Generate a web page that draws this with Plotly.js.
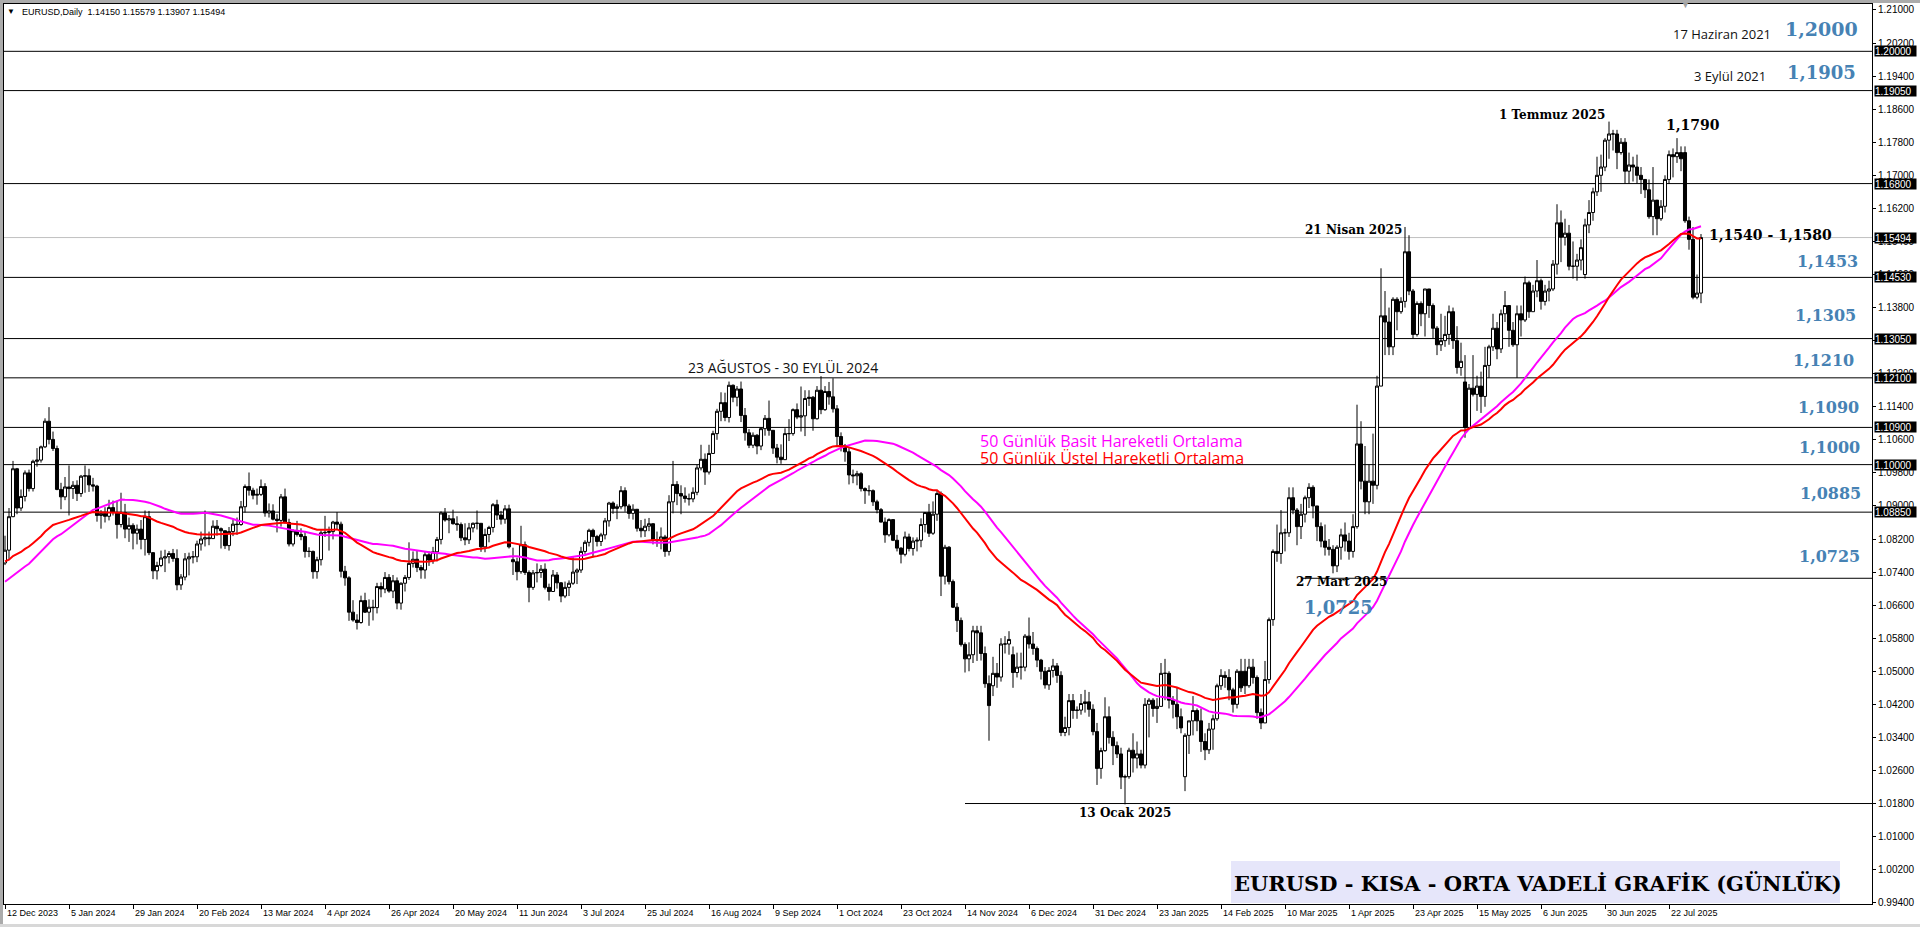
<!DOCTYPE html>
<html><head><meta charset="utf-8">
<script src="https://cdn.plot.ly/plotly-3.0.1.min.js"></script>
<style>html,body{margin:0;padding:0;background:#fff;}#chart{width:1920px;height:927px;}</style>
</head><body><div id="chart"></div>
<script>
// ---- EURUSD daily, 12 Dec 2023 .. 1 Aug 2025 (one line per month) ----
const opens = [
1.0762,1.0793,1.0874,1.0990,1.0895,1.0923,1.0980,1.0942,1.1008,1.1011,1.1043,1.1105,1.1061,
1.1039,1.0940,1.0922,1.0946,1.0942,1.0950,1.0930,1.0972,1.0973,1.0951,1.0948,1.0877,1.0882,1.0875,1.0896,1.0884,1.0855,1.0884,1.0844,1.0853,1.0834,1.0844,
1.0819,1.0874,1.0787,1.0743,1.0756,1.0774,1.0777,1.0785,1.0773,1.0709,1.0728,1.0772,1.0777,1.0777,1.0808,1.0820,1.0823,1.0821,1.0851,1.0845,1.0840,
1.0804,1.0838,1.0856,1.0855,1.0898,1.0947,1.0938,1.0926,1.0928,1.0947,1.0883,1.0888,1.0868,1.0865,1.0922,1.0860,1.0808,1.0840,1.0831,1.0826,1.0790,
1.0790,1.0741,1.0770,1.0835,1.0836,1.0838,1.0861,1.0856,1.0742,1.0726,1.0643,1.0624,1.0618,1.0671,1.0643,1.0655,1.0654,1.0705,1.0699,1.0727,1.0694,1.0719,
1.0665,1.0713,1.0727,1.0761,1.0771,1.0751,1.0745,1.0782,1.0769,1.0789,1.0819,1.0883,1.0866,1.0869,1.0857,1.0855,1.0823,1.0818,1.0847,1.0858,1.0858,1.0801,1.0831,
1.0848,1.0903,1.0878,1.0868,1.0893,1.0770,1.0765,1.0741,1.0806,1.0739,1.0703,1.0738,1.0739,1.0747,1.0703,1.0693,1.0733,1.0714,1.0682,1.0703,
1.0713,1.0740,1.0745,1.0790,1.0812,1.0841,1.0826,1.0814,1.0830,1.0864,1.0907,1.0894,1.0898,1.0937,1.0900,1.0882,1.0892,1.0846,1.0840,1.0851,1.0857,1.0818,1.0816,
1.0825,1.0790,1.0910,1.0952,1.0930,1.0924,1.0918,1.0917,1.0933,1.0992,1.1013,1.0982,1.1027,1.1075,1.1129,1.1150,1.1114,1.1192,1.1163,1.1183,1.1119,1.1077,
1.1047,1.1071,1.1045,1.1087,1.1112,1.1083,1.1040,1.1018,1.1012,1.1075,1.1075,1.1133,1.1115,1.1118,1.1160,1.1163,1.1111,1.1180,1.1133,1.1177,1.1164,
1.1135,1.1068,1.1046,1.1031,1.0975,1.0973,1.0978,1.0942,1.0937,1.0937,1.0910,1.0891,1.0861,1.0830,1.0867,1.0817,1.0798,1.0783,1.0825,1.0797,1.0815,1.0817,1.0855,
1.0884,1.0834,1.0880,1.0930,1.0730,1.0800,1.0717,1.0655,1.0623,1.0565,1.0530,1.0540,1.0598,1.0593,1.0543,1.0470,1.0465,1.0495,1.0486,1.0566,1.0566,
1.0540,1.0497,1.0510,1.0510,1.0585,1.0566,1.0555,1.0527,1.0500,1.0467,1.0502,1.0513,1.0490,1.0352,1.0364,1.0429,1.0405,1.0406,1.0422,1.0426,1.0408,
1.0354,1.0265,1.0308,1.0390,1.0340,1.0320,1.0300,1.0244,1.0245,1.0309,1.0290,1.0300,1.0273,1.0420,1.0430,1.0410,1.0415,1.0495,1.0495,1.0430,1.0420,1.0390,
1.0245,1.0345,1.0380,1.0405,1.0380,1.0330,1.0310,1.0360,1.0385,1.0465,1.0490,1.0485,1.0455,1.0420,1.0500,1.0500,1.0465,1.0510,1.0485,1.0400,
1.0375,1.0480,1.0625,1.0790,1.0785,1.0835,1.0835,1.0920,1.0890,1.0850,1.0880,1.0920,1.0945,1.0900,1.0850,1.0815,1.0800,1.0795,1.0755,1.0800,1.0830,
1.0815,1.0790,1.0850,1.1050,1.0960,1.0910,1.0960,1.0950,1.1190,1.1360,1.1345,1.1285,1.1400,1.1370,1.1395,1.1515,1.1420,1.1315,1.1390,1.1365,1.1425,1.1385,
1.1330,1.1290,1.1300,1.1315,1.1370,1.1300,1.1235,1.1200,1.1090,1.1185,1.1170,1.1190,1.1165,1.1240,1.1285,1.1330,1.1280,1.1365,1.1385,1.1325,1.1290,1.1365,
1.1350,1.1440,1.1370,1.1420,1.1445,1.1395,1.1420,1.1425,1.1485,1.1585,1.1550,1.1560,1.1480,1.1480,1.1495,1.1460,1.1580,1.1610,1.1660,1.1700,1.1720,
1.1785,1.1800,1.1800,1.1755,1.1780,1.1710,1.1725,1.1720,1.1700,1.1690,1.1665,1.1600,1.1640,1.1595,1.1625,1.1690,1.1750,1.1745,1.1755,1.1755,1.1590,1.1545,1.1405,
1.14150];
const highs = [
1.0828,1.0895,1.1009,1.0992,1.0940,1.0986,1.0988,1.1012,1.1040,1.1046,1.1112,1.1139,1.1080,
1.1046,1.0956,1.0970,1.0998,1.0960,1.0962,1.0975,1.0998,1.0990,1.0968,1.0951,1.0890,1.0897,1.0915,1.0913,1.0913,1.0932,1.0905,1.0872,1.0858,1.0855,1.0866,
1.0889,1.0888,1.0788,1.0765,1.0792,1.0794,1.0791,1.0796,1.0795,1.0735,1.0786,1.0787,1.0791,1.0816,1.0838,1.0889,1.0838,1.0865,1.0866,1.0848,1.0840,
1.0849,1.0867,1.0872,1.0912,1.0952,1.0981,1.0944,1.0942,1.0964,1.0955,1.0906,1.0904,1.0880,1.0929,1.0942,1.0869,1.0844,1.0864,1.0846,1.0837,1.0800,
1.0792,1.0777,1.0841,1.0876,1.0850,1.0864,1.0885,1.0862,1.0755,1.0730,1.0672,1.0638,1.0683,1.0690,1.0674,1.0673,1.0714,1.0715,1.0740,1.0735,1.0733,1.0727,
1.0715,1.0733,1.0812,1.0790,1.0791,1.0757,1.0790,1.0790,1.0801,1.0825,1.0887,1.0895,1.0878,1.0891,1.0875,1.0860,1.0858,1.0859,1.0860,1.0889,1.0858,1.0845,1.0852,
1.0907,1.0915,1.0888,1.0902,1.0903,1.0799,1.0775,1.0852,1.0814,1.0744,1.0745,1.0761,1.0757,1.0761,1.0712,1.0745,1.0740,1.0716,1.0717,1.0720,
1.0776,1.0749,1.0801,1.0817,1.0845,1.0845,1.0830,1.0835,1.0871,1.0910,1.0911,1.0904,1.0948,1.0945,1.0905,1.0904,1.0892,1.0866,1.0869,1.0871,1.0858,1.0838,1.0848,
1.0830,1.0926,1.1009,1.0960,1.0950,1.0945,1.0930,1.0945,1.1000,1.1048,1.1027,1.1048,1.1082,1.1135,1.1175,1.1174,1.1201,1.1194,1.1190,1.1201,1.1137,1.1086,
1.1078,1.1074,1.1091,1.1120,1.1155,1.1083,1.1050,1.1049,1.1088,1.1110,1.1136,1.1148,1.1189,1.1180,1.1180,1.1166,1.1190,1.1214,1.1190,1.1200,1.1209,
1.1144,1.1078,1.1050,1.1040,1.0988,1.0985,1.0982,1.0945,1.0950,1.0940,1.0915,1.0895,1.0872,1.0870,1.0867,1.0830,1.0800,1.0838,1.0833,1.0824,1.0824,1.0870,1.0885,
1.0905,1.0911,1.0937,1.0935,1.0806,1.0803,1.0722,1.0665,1.0630,1.0570,1.0570,1.0610,1.0610,1.0610,1.0560,1.0490,1.0535,1.0520,1.0580,1.0585,1.0597,
1.0560,1.0545,1.0545,1.0590,1.0630,1.0595,1.0560,1.0530,1.0510,1.0510,1.0530,1.0520,1.0500,1.0390,1.0445,1.0445,1.0415,1.0445,1.0455,1.0450,1.0420,
1.0375,1.0315,1.0437,1.0415,1.0355,1.0330,1.0315,1.0250,1.0315,1.0350,1.0330,1.0310,1.0435,1.0435,1.0435,1.0435,1.0520,1.0530,1.0500,1.0440,1.0460,1.0410,
1.0350,1.0380,1.0440,1.0410,1.0410,1.0350,1.0375,1.0395,1.0470,1.0505,1.0500,1.0505,1.0460,1.0505,1.0530,1.0530,1.0530,1.0530,1.0490,1.0410,
1.0525,1.0630,1.0795,1.0855,1.0890,1.0845,1.0945,1.0945,1.0895,1.0905,1.0925,1.0955,1.0950,1.0900,1.0860,1.0855,1.0820,1.0805,1.0805,1.0845,1.0860,
1.0835,1.0880,1.1145,1.1105,1.1045,1.1000,1.1075,1.1215,1.1475,1.1420,1.1380,1.1405,1.1405,1.1405,1.1575,1.1555,1.1425,1.1395,1.1395,1.1425,1.1425,1.1390,
1.1335,1.1365,1.1360,1.1385,1.1380,1.1335,1.1295,1.1265,1.1195,1.1265,1.1215,1.1225,1.1285,1.1290,1.1365,1.1345,1.1375,1.1420,1.1385,1.1345,1.1385,1.1385,
1.1455,1.1445,1.1435,1.1495,1.1450,1.1435,1.1445,1.1495,1.1630,1.1615,1.1595,1.1580,1.1540,1.1510,1.1545,1.1595,1.1640,1.1670,1.1745,1.1750,1.1790,
1.1830,1.1810,1.1810,1.1790,1.1790,1.1755,1.1745,1.1750,1.1720,1.1690,1.1690,1.1720,1.1640,1.1640,1.1700,1.1760,1.1765,1.1790,1.1770,1.1770,1.1600,1.1575,1.1460,
1.15579];
const lows = [
1.0757,1.0772,1.0873,1.0880,1.0888,1.0911,1.0935,1.0935,1.0995,1.1005,1.1040,1.1049,1.1033,
1.0938,1.0892,1.0914,1.0877,1.0917,1.0912,1.0922,1.0932,1.0934,1.0935,1.0862,1.0845,1.0860,1.0865,1.0877,1.0821,1.0848,1.0822,1.0813,1.0795,1.0807,1.0795,
1.0780,1.0781,1.0723,1.0722,1.0752,1.0740,1.0761,1.0765,1.0696,1.0697,1.0720,1.0732,1.0761,1.0764,1.0792,1.0802,1.0805,1.0820,1.0828,1.0797,1.0796,
1.0792,1.0827,1.0830,1.0852,1.0884,1.0925,1.0916,1.0903,1.0924,1.0874,1.0872,1.0865,1.0836,1.0850,1.0857,1.0802,1.0802,1.0826,1.0817,1.0775,1.0776,
1.0724,1.0724,1.0756,1.0825,1.0792,1.0819,1.0843,1.0727,1.0707,1.0622,1.0620,1.0601,1.0615,1.0641,1.0610,1.0623,1.0640,1.0679,1.0689,1.0690,1.0677,1.0650,
1.0649,1.0693,1.0721,1.0751,1.0740,1.0724,1.0724,1.0755,1.0760,1.0766,1.0807,1.0862,1.0834,1.0855,1.0840,1.0815,1.0805,1.0808,1.0836,1.0843,1.0789,1.0788,1.0812,
1.0836,1.0866,1.0855,1.0857,1.0797,1.0733,1.0720,1.0736,1.0733,1.0667,1.0697,1.0715,1.0726,1.0698,1.0671,1.0693,1.0700,1.0667,1.0677,1.0682,
1.0709,1.0711,1.0738,1.0784,1.0802,1.0776,1.0802,1.0803,1.0819,1.0850,1.0881,1.0868,1.0892,1.0886,1.0869,1.0867,1.0838,1.0824,1.0825,1.0839,1.0807,1.0801,1.0795,
1.0777,1.0780,1.0882,1.0902,1.0880,1.0908,1.0901,1.0909,1.0926,1.0986,1.0951,1.0976,1.1027,1.1060,1.1105,1.1105,1.1102,1.1151,1.1141,1.1103,1.1058,1.1040,
1.1040,1.1025,1.1035,1.1070,1.1070,1.1026,1.1003,1.1002,1.1012,1.1057,1.1070,1.1110,1.1080,1.1069,1.1142,1.1082,1.1109,1.1122,1.1130,1.1145,1.1126,
1.1045,1.1032,1.1007,1.0952,1.0955,1.0950,1.0935,1.0905,1.0925,1.0900,1.0882,1.0860,1.0811,1.0826,1.0815,1.0790,1.0761,1.0778,1.0790,1.0780,1.0790,1.0800,1.0836,
1.0825,1.0830,1.0864,1.0682,1.0710,1.0710,1.0653,1.0595,1.0560,1.0497,1.0500,1.0520,1.0525,1.0526,1.0460,1.0332,1.0440,1.0460,1.0475,1.0543,1.0540,
1.0460,1.0485,1.0480,1.0500,1.0555,1.0540,1.0510,1.0480,1.0458,1.0455,1.0485,1.0472,1.0343,1.0343,1.0345,1.0385,1.0385,1.0395,1.0400,1.0390,1.0345,
1.0225,1.0240,1.0305,1.0325,1.0273,1.0290,1.0215,1.0178,1.0240,1.0255,1.0265,1.0265,1.0265,1.0340,1.0390,1.0375,1.0415,1.0430,1.0410,1.0386,1.0360,1.0350,
1.0210,1.0300,1.0345,1.0355,1.0305,1.0285,1.0300,1.0310,1.0380,1.0455,1.0460,1.0430,1.0400,1.0410,1.0450,1.0445,1.0460,1.0470,1.0385,1.0360,
1.0375,1.0470,1.0610,1.0765,1.0760,1.0790,1.0825,1.0880,1.0805,1.0820,1.0860,1.0895,1.0870,1.0815,1.0800,1.0780,1.0780,1.0737,1.0740,1.0770,1.0790,
1.0770,1.0775,1.0845,1.0940,1.0880,1.0880,1.0905,1.0940,1.1190,1.1265,1.1265,1.1265,1.1325,1.1365,1.1380,1.1410,1.1305,1.1310,1.1335,1.1310,1.1355,1.1305,
1.1265,1.1275,1.1285,1.1290,1.1280,1.1220,1.1215,1.1065,1.1090,1.1165,1.1130,1.1125,1.1140,1.1210,1.1275,1.1255,1.1270,1.1345,1.1285,1.1285,1.1210,1.1310,
1.1345,1.1355,1.1370,1.1405,1.1375,1.1385,1.1395,1.1420,1.1460,1.1490,1.1530,1.1470,1.1450,1.1445,1.1470,1.1450,1.1560,1.1590,1.1650,1.1660,1.1710,
1.1740,1.1760,1.1715,1.1750,1.1680,1.1680,1.1685,1.1680,1.1655,1.1645,1.1595,1.1555,1.1555,1.1590,1.1610,1.1680,1.1695,1.1730,1.1710,1.1585,1.1520,1.1400,1.1400,
1.13907];
const closes = [
1.0793,1.0874,1.0990,1.0895,1.0923,1.0980,1.0942,1.1008,1.1011,1.1043,1.1105,1.1061,1.1039,
1.0940,1.0922,1.0946,1.0942,1.0950,1.0930,1.0972,1.0973,1.0951,1.0948,1.0877,1.0882,1.0875,1.0896,1.0884,1.0855,1.0884,1.0844,1.0853,1.0834,1.0844,1.0819,
1.0874,1.0787,1.0743,1.0756,1.0774,1.0777,1.0785,1.0773,1.0709,1.0728,1.0772,1.0777,1.0777,1.0808,1.0820,1.0823,1.0821,1.0851,1.0845,1.0840,1.0804,
1.0838,1.0856,1.0855,1.0898,1.0947,1.0938,1.0926,1.0928,1.0947,1.0883,1.0888,1.0868,1.0865,1.0922,1.0860,1.0808,1.0840,1.0831,1.0826,1.0790,1.0790,
1.0741,1.0770,1.0835,1.0836,1.0838,1.0861,1.0856,1.0742,1.0726,1.0643,1.0624,1.0618,1.0671,1.0643,1.0655,1.0654,1.0705,1.0699,1.0727,1.0694,1.0719,1.0665,
1.0713,1.0727,1.0761,1.0771,1.0751,1.0745,1.0782,1.0769,1.0789,1.0819,1.0883,1.0866,1.0869,1.0857,1.0855,1.0823,1.0818,1.0847,1.0858,1.0858,1.0801,1.0831,1.0848,
1.0903,1.0878,1.0868,1.0893,1.0801,1.0765,1.0741,1.0806,1.0739,1.0703,1.0738,1.0739,1.0747,1.0703,1.0693,1.0733,1.0714,1.0682,1.0703,1.0713,
1.0740,1.0745,1.0790,1.0812,1.0841,1.0826,1.0814,1.0830,1.0864,1.0907,1.0894,1.0898,1.0937,1.0900,1.0882,1.0892,1.0846,1.0840,1.0851,1.0857,1.0818,1.0816,1.0825,
1.0790,1.0910,1.0952,1.0930,1.0924,1.0918,1.0917,1.0933,1.0992,1.1013,1.0982,1.1027,1.1075,1.1129,1.1150,1.1114,1.1192,1.1163,1.1183,1.1119,1.1077,1.1047,
1.1071,1.1045,1.1087,1.1112,1.1083,1.1040,1.1018,1.1012,1.1075,1.1075,1.1133,1.1115,1.1118,1.1160,1.1163,1.1111,1.1180,1.1133,1.1177,1.1164,1.1135,
1.1068,1.1046,1.1031,1.0975,1.0973,1.0978,1.0942,1.0937,1.0937,1.0910,1.0891,1.0861,1.0830,1.0867,1.0817,1.0798,1.0783,1.0825,1.0797,1.0815,1.0817,1.0855,1.0884,
1.0834,1.0880,1.0930,1.0730,1.0800,1.0717,1.0655,1.0623,1.0565,1.0530,1.0540,1.0598,1.0593,1.0543,1.0470,1.0417,1.0495,1.0486,1.0566,1.0566,1.0577,
1.0497,1.0510,1.0510,1.0585,1.0566,1.0555,1.0527,1.0500,1.0467,1.0502,1.0513,1.0490,1.0352,1.0364,1.0429,1.0405,1.0406,1.0422,1.0426,1.0408,1.0354,
1.0265,1.0308,1.0390,1.0340,1.0320,1.0300,1.0244,1.0245,1.0309,1.0290,1.0300,1.0273,1.0420,1.0430,1.0410,1.0415,1.0495,1.0495,1.0430,1.0420,1.0390,1.0363,
1.0345,1.0380,1.0405,1.0380,1.0330,1.0310,1.0360,1.0385,1.0465,1.0490,1.0485,1.0455,1.0420,1.0500,1.0460,1.0465,1.0510,1.0485,1.0400,1.0375,
1.0480,1.0625,1.0790,1.0785,1.0835,1.0835,1.0920,1.0890,1.0850,1.0880,1.0920,1.0945,1.0900,1.0850,1.0815,1.0800,1.0795,1.0755,1.0800,1.0830,1.0815,
1.0790,1.0850,1.1050,1.0960,1.0910,1.0960,1.0950,1.1190,1.1360,1.1345,1.1285,1.1400,1.1370,1.1395,1.1515,1.1420,1.1315,1.1390,1.1365,1.1425,1.1385,1.1330,
1.1290,1.1300,1.1315,1.1370,1.1300,1.1235,1.1250,1.1090,1.1185,1.1170,1.1190,1.1165,1.1240,1.1285,1.1330,1.1280,1.1365,1.1385,1.1325,1.1290,1.1365,1.1350,
1.1440,1.1370,1.1420,1.1445,1.1395,1.1420,1.1425,1.1485,1.1585,1.1550,1.1560,1.1480,1.1480,1.1495,1.1525,1.1580,1.1610,1.1660,1.1700,1.1720,1.1785,
1.1800,1.1800,1.1755,1.1780,1.1710,1.1725,1.1720,1.1700,1.1690,1.1665,1.1600,1.1640,1.1595,1.1625,1.1690,1.1750,1.1745,1.1755,1.1740,1.1590,1.1545,1.1405,1.1415,
1.15494];
// closes before 12 Dec 2023 (Sep - 11 Dec 2023), used only to warm up the 50-day averages
const warmupCloses = [
1.0775,1.0795,1.0724,1.0725,1.0697,1.0700,1.0748,1.0752,1.0732,1.0642,1.0658,1.0690,1.0679,1.0660,1.0660,1.0646,1.0596,1.0570,1.0502,1.0565,1.0573,
1.0476,1.0470,1.0503,1.0549,1.0588,1.0564,1.0604,1.0620,1.0530,1.0510,1.0558,1.0576,1.0535,1.0580,1.0594,1.0671,1.0589,1.0565,1.0565,1.0564,1.0614,1.0577,
1.0568,1.0620,1.0729,1.0720,1.0697,1.0709,1.0668,1.0684,1.0700,1.0879,1.0850,1.0853,1.0913,1.0940,1.0907,1.0888,1.0901,1.0941,1.0953,1.0998,1.0971,1.0887,
1.0884,1.0836,1.0795,1.0766,1.0794,1.0762,1.0763];
const tickLabels = ['12 Dec 2023','5 Jan 2024','29 Jan 2024','20 Feb 2024','13 Mar 2024','4 Apr 2024','26 Apr 2024','20 May 2024','11 Jun 2024','3 Jul 2024','25 Jul 2024','16 Aug 2024','9 Sep 2024','1 Oct 2024','23 Oct 2024','14 Nov 2024','6 Dec 2024','31 Dec 2024','23 Jan 2025','14 Feb 2025','10 Mar 2025','1 Apr 2025','23 Apr 2025','15 May 2025','6 Jun 2025','30 Jun 2025','22 Jul 2025'];
const levelLines = [1.2000, 1.1905, 1.1680, 1.1453, 1.1305, 1.1210, 1.1090, 1.1000, 1.0885];
const priceLine = 1.15494;
const partialLevels = [1.0725, 1.0180];
const partialStartBar = [324.5, 240];
const boxLevels = [1.20000, 1.19050, 1.16800, 1.15494, 1.14530, 1.13050, 1.12100, 1.10900, 1.10000, 1.08850];
const maPeriod = 50;

// ---- moving averages computed from the closes ----
const allC = warmupCloses.concat(closes);
const off = warmupCloses.length;
const sma = [], ema = [];
let e = allC[0];
const k = 2 / (maPeriod + 1);
for (let i = 0; i < allC.length; i++) {
  e = i === 0 ? allC[0] : allC[i] * k + e * (1 - k);
  if (i >= off) {
    let s = 0; for (let j = i - maPeriod + 1; j <= i; j++) s += allC[j];
    sma.push(s / maPeriod); ema.push(e);
  }
}
const xi = closes.map((_, i) => i);

// ---- layout helpers (pixel -> paper) ----
const PL = 4, PR = 1872, PT = 4, PB = 904;
const px = x => (x - PL) / (PR - PL);
const py = y => 1 - (y - PT) / (PB - PT);

const traces = [
  {type:'candlestick', x:xi, open:opens, high:highs, low:lows, close:closes,
   increasing:{line:{color:'#000', width:1}, fillcolor:'#fff'},
   decreasing:{line:{color:'#000', width:1}, fillcolor:'#000'},
   whiskerwidth:0, hoverinfo:'skip', showlegend:false},
  {type:'scatter', mode:'lines', x:xi, y:sma, line:{color:'#FF00FF', width:2}, hoverinfo:'skip'},
  {type:'scatter', mode:'lines', x:xi, y:ema, line:{color:'#FF0000', width:2}, hoverinfo:'skip'}
];

const shapes = [];
levelLines.forEach(v => shapes.push({type:'line', xref:'paper', x0:0, x1:1, yref:'y', y0:v, y1:v, line:{color:'#000', width:1}, layer:'below'}));
shapes.push({type:'line', xref:'paper', x0:0, x1:1, yref:'y', y0:priceLine, y1:priceLine, line:{color:'#C0C0C0', width:1}, layer:'below'});
partialLevels.forEach((v, i) => shapes.push({type:'line', xref:'x', x0:partialStartBar[i], x1:466.75, yref:'y', y0:v, y1:v, line:{color:'#000', width:1}, layer:'below'}));
// title box
shapes.push({type:'rect', xref:'paper', yref:'paper', x0:px(1231), x1:px(1840), y0:py(903), y1:py(861), fillcolor:'#E6E6FA', line:{width:0}, layer:'below'});
// window frame strips
shapes.push({type:'rect', xref:'paper', yref:'paper', x0:px(0), x1:px(3), y0:py(927), y1:py(0), fillcolor:'#ABABAB', line:{width:0}});
shapes.push({type:'rect', xref:'paper', yref:'paper', x0:px(0), x1:px(1920), y0:py(3), y1:py(0), fillcolor:'#ABABAB', line:{width:0}});
shapes.push({type:'rect', xref:'paper', yref:'paper', x0:px(0), x1:px(1920), y0:py(927), y1:py(924), fillcolor:'#D8D8D8', line:{width:0}});

const ann = [];
const T = (text, x, y, opt) => ann.push(Object.assign({text, xref:'paper', yref:'paper', x:px(x), y:py(y), showarrow:false, xanchor:'center', yanchor:'middle'}, opt || {}));
const sans = 'Liberation Sans, Arial, sans-serif';
const serif = 'DejaVu Serif, Georgia, serif';
const ui = 'Open Sans, Noto Sans, sans-serif';
const blue = '#4682B4';

T('▼', 11, 12, {font:{family:sans, size:8, color:'#000'}});
T('EURUSD,Daily  1.14150 1.15579 1.13907 1.15494', 20, 12, {xanchor:'left', font:{family:sans, size:9, color:'#000'}});
T('▼', 1685, 5, {font:{family:sans, size:9, color:'#A0A0A0'}});

T('17 Haziran 2021', 1773, 34, {xanchor:'right', font:{family:ui, size:13, color:'#111'}});
T('3 Eylül 2021', 1768, 76, {xanchor:'right', font:{family:ui, size:13, color:'#111'}});
T('<b>1,2000</b>', 1860, 29, {xanchor:'right', font:{family:serif, size:19, color:blue}});
T('<b>1,1905</b>', 1858, 72, {xanchor:'right', font:{family:serif, size:18, color:blue}});
T('<b>1,1453</b>', 1860, 262, {xanchor:'right', font:{family:serif, size:16, color:blue}});
T('<b>1,1305</b>', 1858, 315, {xanchor:'right', font:{family:serif, size:16, color:blue}});
T('<b>1,1210</b>', 1856, 360, {xanchor:'right', font:{family:serif, size:16, color:blue}});
T('<b>1,1090</b>', 1861, 407, {xanchor:'right', font:{family:serif, size:16, color:blue}});
T('<b>1,1000</b>', 1862, 447, {xanchor:'right', font:{family:serif, size:16, color:blue}});
T('<b>1,0885</b>', 1863, 493, {xanchor:'right', font:{family:serif, size:16, color:blue}});
T('<b>1,0725</b>', 1862, 556, {xanchor:'right', font:{family:serif, size:16, color:blue}});
T('<b>1,0725</b>', 1338, 607, {font:{family:serif, size:18, color:blue}});

T('<b>1,1790</b>', 1693, 125, {font:{family:serif, size:14, color:'#000'}});
T('<b>1,1540 - 1,1580</b>', 1707, 235, {xanchor:'left', font:{family:serif, size:14, color:'#000'}});
T('<b>1 Temmuz 2025</b>', 1552, 115, {font:{family:serif, size:12, color:'#000'}});
T('<b>21 Nisan 2025</b>', 1353, 230, {font:{family:serif, size:12, color:'#000'}});
T('<b>27 Mart 2025</b>', 1341, 582, {font:{family:serif, size:12, color:'#000'}});
T('<b>13 Ocak 2025</b>', 1125, 813, {font:{family:serif, size:12, color:'#000'}});
T('23 AĞUSTOS - 30 EYLÜL 2024', 783, 367, {font:{family:ui, size:14, color:'#111'}});
T('50 Günlük Basit Hareketli Ortalama', 978, 441, {xanchor:'left', font:{family:ui, size:16, color:'#FF00FF'}});
T('50 Günlük Üstel Hareketli Ortalama', 978, 458, {xanchor:'left', font:{family:ui, size:16, color:'#FF0000'}});
T('<b>EURUSD - KISA - ORTA VADELİ GRAFİK (GÜNLÜK)</b>', 1538, 883, {font:{family:serif, size:21, color:'#000'}});

// x-axis date labels (left-aligned after each tick)
tickLabels.forEach((t, i) => ann.push({text:t, xref:'x', yref:'paper', x:i * 16, y:py(913), xanchor:'left', yanchor:'middle', xshift:0, showarrow:false, font:{family:sans, size:9, color:'#000'}}));
// price boxes on the right axis
boxLevels.forEach(v => ann.push({text:v.toFixed(5), xref:'paper', yref:'y', x:1, y:v, xanchor:'left', yanchor:'middle', xshift:2, showarrow:false, bgcolor:'#000', borderpad:0, width:41, height:10, align:'left', font:{family:sans, size:10, color:'#fff'}}));

const layout = {
  width:1920, height:927, margin:{l:PL, r:1920 - PR, t:PT, b:927 - PB, pad:0},
  paper_bgcolor:'#fff', plot_bgcolor:'#fff', showlegend:false, hovermode:false, dragmode:false,
  boxgap:0.15, boxgroupgap:0.1,
  xaxis:{type:'linear', range:[-0.25, 466.75], showgrid:false, zeroline:false, showline:true, linecolor:'#000', linewidth:1, mirror:true,
         ticks:'outside', ticklen:4, tickcolor:'#000', tickvals:tickLabels.map((_, i) => i * 16), showticklabels:false,
         rangeslider:{visible:false}, fixedrange:true},
  yaxis:{side:'right', range:[0.99369, 1.21145], tick0:0.994, dtick:0.008, tickformat:'.5f', showgrid:false, zeroline:false,
         showline:true, linecolor:'#000', linewidth:1, mirror:true, ticks:'outside', ticklen:3, tickcolor:'#000',
         tickfont:{family:sans, size:10, color:'#000'}, fixedrange:true},
  shapes, annotations:ann
};
Plotly.newPlot('chart', traces, layout, {staticPlot:true, displayModeBar:false});
</script></body></html>
